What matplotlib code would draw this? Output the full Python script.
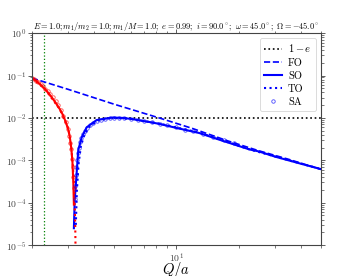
import matplotlib as mpl
mpl.use('Agg')
import matplotlib.pyplot as plt

mpl.rcParams['mathtext.fontset'] = 'cm'
mpl.rcParams['font.family'] = 'serif'
mpl.rcParams['font.serif'] = ['cmr10', 'DejaVu Serif']
mpl.rcParams['axes.formatter.use_mathtext'] = True

# |delta e| vs Q/a
# FO (straight line in log-log)
fo_x = [2.0, 3.0, 5.0, 8.3, 12.0, 17.6, 25.0, 35.0, 50.0]
fo_y = [0.087, 0.047, 0.021, 0.0099, 0.0056, 0.0029, 0.00168, 0.00105, 0.00061]

# SO, negative branch (red) and positive branch (blue)
so_neg_x = [2.0, 2.1, 2.2, 2.31, 2.4, 2.5, 2.6, 2.73, 2.83, 2.92, 3.0, 3.05, 3.1, 3.14, 3.17, 3.19]
so_neg_y = [0.087, 0.074, 0.061, 0.048, 0.039, 0.030, 0.023, 0.016, 0.0115, 0.0078,
            0.0052, 0.0035, 0.0019, 9e-4, 3e-4, 9e-5]
so_pos_x = [3.19, 3.22, 3.29, 3.35, 3.48, 3.68, 4.11, 4.9, 5.5, 6.1, 7.4, 8.3, 10.0,
            12.9, 16.0, 22.6, 25.0, 30.0, 40.0, 50.0]
so_pos_y = [2.5e-5, 1.15e-4, 5e-4, 1.75e-3, 3.5e-3, 6e-3, 8.9e-3, 0.0102, 0.0100, 0.0094,
            0.0080, 0.0072, 0.0058, 0.0044, 0.0031, 0.0018, 0.00162, 0.00122, 0.00083, 0.00062]

# TO
to_neg_x = [2.0, 2.31, 2.73, 3.0, 3.1, 3.15, 3.19, 3.21, 3.23, 3.24, 3.245, 3.25]
to_neg_y = [0.088, 0.048, 0.016, 0.0056, 0.002, 8e-4, 3e-4, 1.2e-4, 5e-5, 2.5e-5, 1.4e-5, 8e-6]
to_pos_x = [3.26, 3.3, 3.36, 3.45, 3.6, 3.8, 4.2, 4.9, 6.1, 8.3, 12.9, 22.6, 50.0]
to_pos_y = [3e-5, 2e-4, 8e-4, 2.2e-3, 4.2e-3, 6.3e-3, 8.8e-3, 0.0101, 0.0094, 0.0073,
            0.0045, 0.0018, 0.00062]

# SA (semi-analytic) points
sa_neg_x = [2.0, 2.05, 2.1, 2.15, 2.2, 2.26, 2.32, 2.38, 2.45, 2.52, 2.6, 2.68, 2.76,
            2.84, 2.92, 2.98, 3.03, 3.07, 3.1, 3.13, 3.15, 3.17, 3.18]
sa_neg_y = [0.088, 0.082, 0.075, 0.069, 0.063, 0.056, 0.049, 0.043, 0.037, 0.031, 0.025,
            0.020, 0.015, 0.011, 0.0078, 0.0055, 0.0038, 0.0026, 0.0018, 0.0011, 7e-4,
            4e-4, 2.2e-4]
sa_pos_x = [3.22, 3.24, 3.26, 3.28, 3.30, 3.33, 3.36, 3.40, 3.45, 3.52, 3.6, 3.7, 3.82,
            3.96, 4.12, 4.3, 4.5, 4.75, 5.0, 5.3, 5.6, 6.0, 6.5, 7.0, 7.6, 8.3, 9.0, 10.0,
            11.0, 12.0, 13.5, 15.0, 17.0, 19.0]
sa_pos_y = [1.2e-4, 2.5e-4, 4.5e-4, 7e-4, 1.0e-3, 1.5e-3, 2.0e-3, 2.7e-3, 3.3e-3, 4.1e-3,
            4.9e-3, 5.8e-3, 6.7e-3, 7.6e-3, 8.4e-3, 9.0e-3, 9.5e-3, 9.9e-3, 1.01e-2,
            1.01e-2, 1.0e-2, 9.6e-3, 9.1e-3, 8.6e-3, 8.0e-3, 7.3e-3, 6.7e-3, 6.0e-3,
            5.3e-3, 4.8e-3, 4.2e-3, 3.6e-3, 3.0e-3, 2.6e-3]

one_minus_e = 0.01
q_line = 2.29
title = (r'$E=1.0; m_1/m_2=1.0; m_1/M=1.0;\ e=0.99;\ i=90.0^\circ;'
         r'\ \omega=45.0^\circ;\ \Omega=-45.0^\circ$')

fig = plt.figure(figsize=(3.4, 2.76), dpi=100)
ax = fig.add_axes([0.094, 0.112, 0.85, 0.768])

ax.axhline(one_minus_e, color='k', ls=':', lw=1.2, label=r'$1-e$')
ax.axvline(q_line, color='g', ls=':', lw=0.9)

ax.plot(fo_x, fo_y, color='b', ls='--', lw=1.2, label='FO')
ax.plot(so_pos_x, so_pos_y, color='b', ls='-', lw=1.5, label='SO')
ax.plot(so_neg_x, so_neg_y, color='r', ls='-', lw=1.5)
ax.plot(to_pos_x, to_pos_y, color='b', ls=':', lw=1.5, label='TO')
ax.plot(to_neg_x, to_neg_y, color='r', ls=':', lw=1.5)
ax.plot(sa_pos_x, sa_pos_y, 'o', color='b', ms=2.5, mfc='none', mew=0.6, alpha=0.7, label='SA')
ax.plot(sa_neg_x, sa_neg_y, 'o', color='r', ms=2.5, mfc='none', mew=0.6, alpha=0.7)

ax.set_xscale('log')
ax.set_yscale('log')
ax.set_xlim(2.0, 50.0)
ax.set_ylim(1e-5, 1e0)

ax.tick_params(which='both', direction='out', top=True, right=True, labelsize=7,
               colors='#444444', pad=1.2)
ax.tick_params(which='major', length=3, width=0.6)
ax.tick_params(which='minor', length=1.8, width=0.5)
for s in ax.spines.values():
    s.set_color('#444444')
    s.set_linewidth(0.8)

ax.set_xlabel(r'$Q/a$', fontsize=10.5)
ax.xaxis.set_label_coords(0.5, -0.068)
ax.set_ylabel(r'$\Delta e$', fontsize=11, labelpad=1)
ax.set_title(title, fontsize=6.0, pad=2)

leg = ax.legend(loc='upper right', fontsize=7.5, handlelength=1.7, handletextpad=0.6,
                borderpad=0.4, labelspacing=0.35, framealpha=0.8)
leg.get_frame().set_linewidth(0.6)

plt.savefig('out.png', dpi=100)
